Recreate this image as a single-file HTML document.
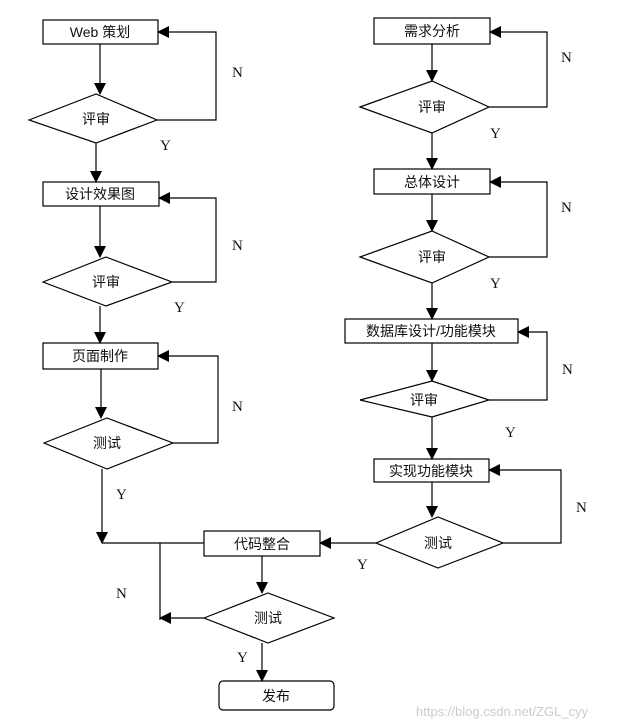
<!DOCTYPE html>
<html><head><meta charset="utf-8"><style>
html,body{margin:0;padding:0;background:#fff;}
svg{display:block;}
text{font-family:"Liberation Sans","Noto Sans CJK SC",sans-serif;font-size:14px;fill:#111;}
.l{font-family:"Liberation Serif",serif;font-size:15px;}
</style></head><body>
<svg width="628" height="726" viewBox="0 0 628 726" xmlns="http://www.w3.org/2000/svg">
<defs><marker id="a" markerWidth="12" markerHeight="12" refX="11" refY="6" orient="auto" markerUnits="userSpaceOnUse"><path d="M0,0 L12,6 L0,12 z" fill="#000"/></marker></defs>
<g fill="none" stroke="#000" stroke-width="1.2">
<!-- left column -->
<rect x="43" y="20" width="115" height="24"/>
<line x1="100" y1="44" x2="100" y2="94" marker-end="url(#a)"/>
<polygon points="29,120 96,94 157,120 96,143"/>
<polyline points="157,120 216,120 216,32 158,32" marker-end="url(#a)"/>
<line x1="96" y1="143" x2="96" y2="182" marker-end="url(#a)"/>
<rect x="43" y="182" width="116" height="24"/>
<line x1="100" y1="206" x2="100" y2="257" marker-end="url(#a)"/>
<polygon points="43,282 106,257 172,282 106,306"/>
<polyline points="172,282 216,282 216,198 159,198" marker-end="url(#a)"/>
<line x1="100" y1="306" x2="100" y2="343" marker-end="url(#a)"/>
<rect x="43" y="343" width="115" height="26"/>
<line x1="101" y1="369" x2="101" y2="418" marker-end="url(#a)"/>
<polygon points="44,443 107,418 173,443 107,469"/>
<polyline points="173,443 218,443 218,356 158,356" marker-end="url(#a)"/>
<line x1="102" y1="469" x2="102" y2="543" marker-end="url(#a)"/>
<line x1="102" y1="543" x2="204" y2="543"/>
<line x1="160" y1="543" x2="160" y2="620"/>
<!-- bottom -->
<rect x="204" y="531" width="116" height="25"/>
<line x1="262" y1="556" x2="262" y2="593" marker-end="url(#a)"/>
<polygon points="204,618 268,593 334,618 268,643"/>
<line x1="204" y1="618" x2="160" y2="618" marker-end="url(#a)"/>
<line x1="262" y1="643" x2="262" y2="681" marker-end="url(#a)"/>
<rect x="219" y="681" width="115" height="29" rx="4"/>
<!-- right column -->
<rect x="374" y="18" width="116" height="26"/>
<line x1="432" y1="44" x2="432" y2="81" marker-end="url(#a)"/>
<polygon points="360,107 432,81 489,107 432,133"/>
<polyline points="489,107 547,107 547,32 490,32" marker-end="url(#a)"/>
<line x1="432" y1="133" x2="432" y2="169" marker-end="url(#a)"/>
<rect x="374" y="169" width="116" height="25"/>
<line x1="432" y1="194" x2="432" y2="231" marker-end="url(#a)"/>
<polygon points="360,257 432,231 489,257 432,283"/>
<polyline points="489,257 547,257 547,182 490,182" marker-end="url(#a)"/>
<line x1="432" y1="283" x2="432" y2="319" marker-end="url(#a)"/>
<rect x="345" y="319" width="173" height="24"/>
<line x1="432" y1="343" x2="432" y2="381" marker-end="url(#a)"/>
<polygon points="360,400 432,381 489,400 432,417"/>
<polyline points="489,400 547,400 547,332 518,332" marker-end="url(#a)"/>
<line x1="432" y1="417" x2="432" y2="459" marker-end="url(#a)"/>
<rect x="374" y="459" width="115" height="23"/>
<line x1="432" y1="482" x2="432" y2="517" marker-end="url(#a)"/>
<polygon points="376,543 438,517 503,543 438,568"/>
<polyline points="503,543 561,543 561,470 489,470" marker-end="url(#a)"/>
<line x1="376" y1="543" x2="320" y2="543" marker-end="url(#a)"/>
</g>
<g text-anchor="middle">
<text x="100" y="37">Web 策划</text>
<text x="96" y="124">评审</text>
<text x="100" y="199">设计效果图</text>
<text x="106" y="287">评审</text>
<text x="100" y="361">页面制作</text>
<text x="107" y="448">测试</text>
<text x="262" y="549">代码整合</text>
<text x="268" y="623">测试</text>
<text x="276" y="701">发布</text>
<text x="432" y="36">需求分析</text>
<text x="432" y="112">评审</text>
<text x="432" y="187">总体设计</text>
<text x="432" y="262">评审</text>
<text x="431" y="336">数据库设计/功能模块</text>
<text x="424" y="405">评审</text>
<text x="431" y="476">实现功能模块</text>
<text x="438" y="548">测试</text>
</g>
<g class="l">
<text class="l" x="232" y="77">N</text>
<text class="l" x="160" y="150">Y</text>
<text class="l" x="232" y="250">N</text>
<text class="l" x="174" y="312">Y</text>
<text class="l" x="232" y="411">N</text>
<text class="l" x="116" y="499">Y</text>
<text class="l" x="116" y="598">N</text>
<text class="l" x="237" y="662">Y</text>
<text class="l" x="561" y="62">N</text>
<text class="l" x="490" y="138">Y</text>
<text class="l" x="561" y="212">N</text>
<text class="l" x="490" y="288">Y</text>
<text class="l" x="562" y="374">N</text>
<text class="l" x="505" y="437">Y</text>
<text class="l" x="576" y="512">N</text>
<text class="l" x="357" y="569">Y</text>
</g>
<text x="416" y="716" style="font-size:13px;fill:#ccc">https://blog.csdn.net/ZGL_cyy</text>
</svg>
</body></html>
